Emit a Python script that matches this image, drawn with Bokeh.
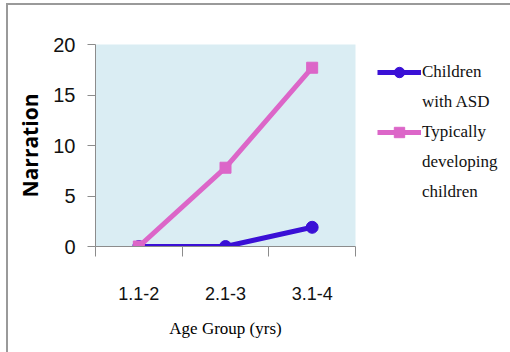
from bokeh.plotting import figure
from bokeh.models import Range1d, FixedTicker, Legend, LegendItem, InlineStyleSheet
from bokeh.embed import file_html
from bokeh.resources import INLINE

categories = ["1.1-2", "2.1-3", "3.1-4"]
asd = [0, 0, 1.9]
typical = [0, 7.8, 17.7]
asd_name = ["Children", "with ASD"]
typical_name = ["Typically", "developing", "children"]
y_ticks = [0, 5, 10, 15, 20]

xs = [i + 0.5 for i in range(len(categories))]
BLUE = "#3A10D6"
PINK = "#DC66C8"
NARROW = "Liberation Sans"
SERIF = "Liberation Serif"

p = figure(frame_width=260, frame_height=202, output_backend="svg", toolbar_location=None,
           x_range=Range1d(0, len(categories)), y_range=Range1d(0, 20),
           min_border_left=95, min_border_right=155, min_border_top=44, min_border_bottom=106)
p.background_fill_color = "#DAEDF3"
p.border_fill_color = "white"
p.outline_line_color = None
p.grid.visible = False
p.stylesheets = [InlineStyleSheet(css=":host { position: relative; } :host::after { content: ''; position: absolute; left: 6px; top: 3px; right: 0; bottom: 0; border-left: 2px solid #9a9a9a; border-top: 2px solid #9a9a9a; pointer-events: none; }")]

# x axis
xa = p.xaxis[0]
xa.ticker = FixedTicker(ticks=xs, minor_ticks=list(range(len(categories) + 1)))
xa.major_label_overrides = {x: c for x, c in zip(xs, categories)}
xa.major_tick_line_color = None
xa.major_tick_out = 0
xa.major_tick_in = 0
xa.minor_tick_in = 0
xa.minor_tick_out = 10
xa.minor_tick_line_color = "#8c8c8c"
xa.axis_line_color = "#8c8c8c"
xa.major_label_standoff = 30
xa.major_label_text_font = NARROW
xa.major_label_text_font_size = "18px"
xa.major_label_text_color = "#111111"
xa.axis_label = "Age Group (yrs)"
xa.axis_label_text_font = SERIF
xa.axis_label_text_font_style = "normal"
xa.axis_label_text_font_size = "17px"
xa.axis_label_text_color = "#000000"
xa.axis_label_standoff = 16

# y axis
ya = p.yaxis[0]
ya.ticker = FixedTicker(ticks=y_ticks)
ya.minor_tick_line_color = None
ya.major_tick_in = 0
ya.major_tick_out = 8
ya.major_tick_line_color = "#8c8c8c"
ya.axis_line_color = "#8c8c8c"
ya.major_label_standoff = 12
ya.major_label_text_font = NARROW
ya.major_label_text_font_size = "20px"
ya.major_label_text_color = "#111111"
ya.axis_label = "Narration"
ya.axis_label_text_font = "Open Sans"
ya.axis_label_text_font_style = "bold"
ya.axis_label_text_font_size = "21px"
ya.axis_label_text_color = "#000000"
ya.axis_label_standoff = 6

# series
l1 = p.line(xs, asd, line_color=BLUE, line_width=5)
s1 = p.scatter(xs, asd, marker="circle", size=12, fill_color=BLUE, line_color=BLUE)
l2 = p.line(xs, typical, line_color=PINK, line_width=5)
s2 = p.scatter(xs, typical, marker="square", size=11, fill_color=PINK, line_color=PINK)

items = [LegendItem(label=asd_name[0], renderers=[l1, s1])]
items += [LegendItem(label=t, renderers=[]) for t in asd_name[1:]]
items += [LegendItem(label=typical_name[0], renderers=[l2, s2])]
items += [LegendItem(label=t, renderers=[]) for t in typical_name[1:]]

legend = Legend(items=items, location=(22, 41), glyph_width=44, glyph_height=26,
                label_height=26, label_standoff=1, spacing=4, padding=0, margin=0,
                label_text_font=SERIF, label_text_font_size="17px", label_text_color="#111111",
                border_line_color=None, background_fill_alpha=0)
p.add_layout(legend, "right")

open("out.html", "w").write(file_html(p, INLINE))
